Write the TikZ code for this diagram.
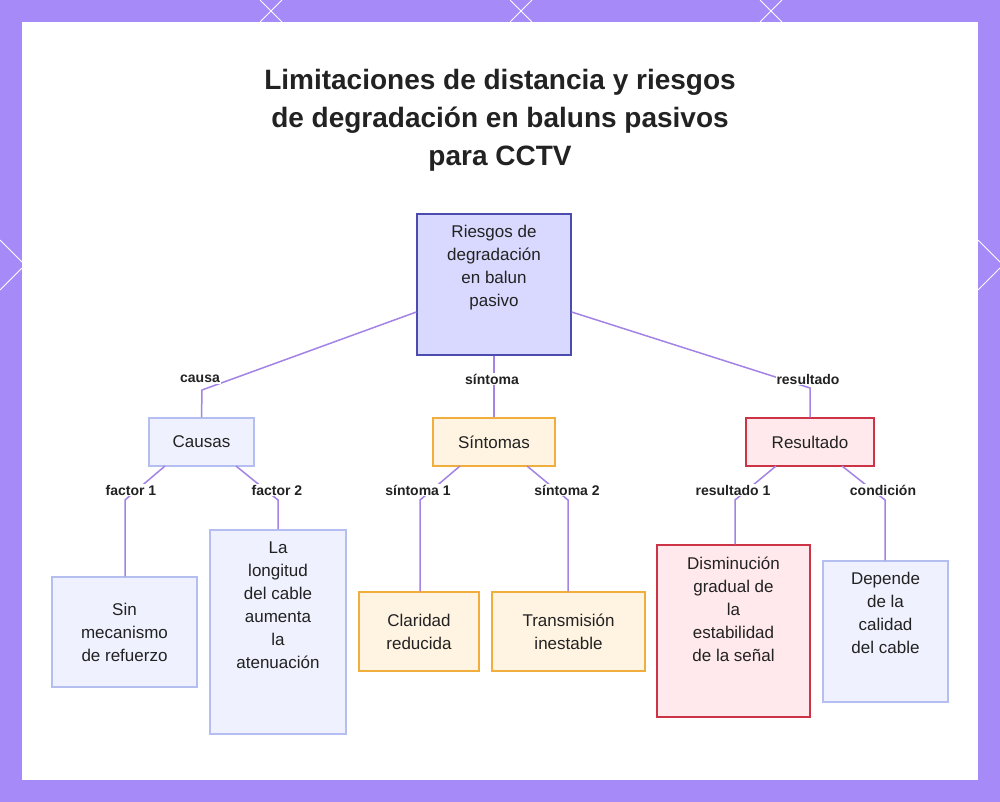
\documentclass[tikz,border=0pt]{standalone}
\usepackage{fontspec}
\setmainfont{Liberation Sans}
\begin{document}
\begin{tikzpicture}[x=1pt,y=-1pt,
 box/.style={draw,line width=1.3pt,align=center,inner sep=0pt,font=\fontsize{17}{23}\selectfont,text=tcol},
 bl/.style={box,fill=bfill,draw=bdraw},
 ye/.style={box,fill=yfill,draw=ydraw},
 re/.style={box,fill=rfill,draw=rdraw},
 tx/.style={font=\fontsize{17}{23}\selectfont,align=center,text=tcol},
 ln/.style={draw=lncol,line width=1.5pt},
 lab/.style={font=\bfseries\fontsize{14}{15}\selectfont,fill=white,inner sep=1pt,text=tcol}]
\definecolor{frame}{HTML}{A58AF8}
\definecolor{lncol}{HTML}{A383E6}
\definecolor{bfill}{HTML}{EFF1FE}
\definecolor{bdraw}{HTML}{B4BEF0}
\definecolor{yfill}{HTML}{FFF3E2}
\definecolor{ydraw}{HTML}{F2AE3C}
\definecolor{rfill}{HTML}{FFE9EC}
\definecolor{rdraw}{HTML}{CC3344}
\definecolor{tcol}{HTML}{222222}
\useasboundingbox (0,0) rectangle (1000,802);
\fill[frame] (0,0) rectangle (1000,802);
\foreach \a in {0,250,500,750}{\draw[white,line width=1pt] (\a+260,0)--(\a+282,22);\draw[white,line width=1pt] (\a+282,0)--(\a+260,22);}
\draw[white,line width=1pt] (0,240)--(22,262) (0,290)--(22,268) (978,240)--(1000,262) (978,290)--(1000,268);
\fill[white] (22,22) rectangle (978,780);
\node[font=\bfseries\fontsize{28}{38}\selectfont,align=center,text=tcol] (title) at (500,120) {Limitaciones de distancia y riesgos\\de degradación en baluns pasivos\\para CCTV};
\node[box,fill=blue!15,draw=blue!55!black!70,minimum width=154pt,minimum height=141pt] (root) at (494,284.5) {};
\node[tx] at (494,268) {Riesgos de\\degradación\\en balun\\pasivo};
\node[bl,minimum width=105pt,minimum height=48pt] (c) at (201.5,442) {Causas};
\node[ye,minimum width=122pt,minimum height=48pt] (s) at (494,442) {Síntomas};
\node[re,minimum width=128pt,minimum height=48pt] (r) at (810,442) {Resultado};
\node[bl,minimum width=145pt,minimum height=110pt] (c1) at (124.5,632) {Sin\\mecanismo\\de refuerzo};
\node[bl,minimum width=136pt,minimum height=204pt] (c2) at (278,632) {};
\node[tx] at (278,605) {La\\longitud\\del cable\\aumenta\\la\\atenuación};
\node[ye,minimum width=120pt,minimum height=79pt] (s1) at (419,631.5) {Claridad\\reducida};
\node[ye,minimum width=153pt,minimum height=79pt] (s2) at (568.5,631.5) {Transmisión\\inestable};
\node[re,minimum width=153pt,minimum height=172pt] (r1) at (733.5,631) {};
\node[tx] at (733.5,609) {Disminución\\gradual de\\la\\estabilidad\\de la señal};
\node[bl,minimum width=125pt,minimum height=141pt] (r2) at (885.5,631.5) {};
\node[tx] at (885.5,613) {Depende\\de la\\calidad\\del cable};
\coordinate (a1) at (202,390); \coordinate (a3) at (810,388);
\draw[ln] (root.west|-0,312) -- (a1) -- (c.north);
\draw[ln] (root.south) -- (s.north);
\draw[ln] (root.east|-0,312) -- (a3) -- (r.north);
\node[lab] at (200,379) {causa};
\node[lab] at (492,379) {síntoma};
\node[lab] at (808,379) {resultado};
\coordinate (b1) at (125,500); \coordinate (b2) at (278,500);
\coordinate (b3) at (420,500); \coordinate (b4) at (568,500);
\coordinate (b5) at (735,500); \coordinate (b6) at (885,500);
\draw[ln] (165,466) -- (b1) -- (b1|-c1.north);
\draw[ln] (236,466) -- (b2) -- (c2.north);
\draw[ln] (460,466) -- (b3) -- (b3|-s1.north);
\draw[ln] (527,466) -- (b4) -- (b4|-s2.north);
\draw[ln] (776,466) -- (b5) -- (b5|-r1.north);
\draw[ln] (842,466) -- (b6) -- (b6|-r2.north);
\node[lab] at (131,490) {factor 1};
\node[lab] at (277,490) {factor 2};
\node[lab] at (418,490) {síntoma 1};
\node[lab] at (567,490) {síntoma 2};
\node[lab] at (733,490) {resultado 1};
\node[lab] at (883,490) {condición};
\end{tikzpicture}
\end{document}
